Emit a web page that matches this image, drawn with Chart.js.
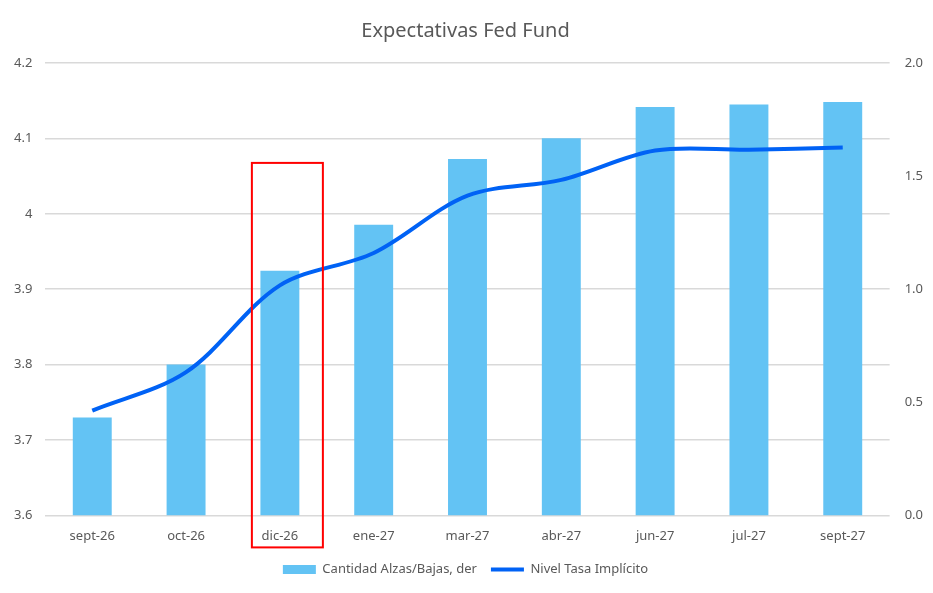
<!DOCTYPE html>
<html>
<head>
<meta charset="utf-8">
<script src="https://cdn.jsdelivr.net/npm/chart.js@4"></script>
<style>
    html, body { margin: 0; padding: 0; background: #fff; }
    #wrap { width: 933px; height: 593px; }
</style>
</head>
<body>
<div id="wrap"><canvas id="fedChart"></canvas></div>
<script>
const months = ['sept-26', 'oct-26', 'dic-26', 'ene-27', 'mar-27', 'abr-27', 'jun-27', 'jul-27', 'sept-27'];
const hikesCuts = [0.433, 0.667, 1.082, 1.285, 1.576, 1.667, 1.806, 1.816, 1.828];
const impliedRate = [3.739, 3.790, 3.905, 3.948, 4.024, 4.045, 4.084, 4.085, 4.088];
const leftTicks = [3.6, 3.7, 3.8, 3.9, 4.0, 4.1, 4.2];
const rightTicks = [0.0, 0.5, 1.0, 1.5, 2.0];
const highlightMonth = 'dic-26';
const highlightTop = 4.0675;

const textGrey = '#595959';

// red box around the highlighted month
const highlightBox = {
    id: 'highlightBox',
    afterDatasetsDraw(chart) {
        const x = chart.scales.x;
        const y = chart.scales.y;
        const cx = x.getPixelForValue(months.indexOf(highlightMonth));
        const ctx = chart.ctx;
        ctx.save();
        ctx.strokeStyle = '#ff0000';
        ctx.lineWidth = 2;
        const top = y.getPixelForValue(highlightTop);
        const bottom = chart.chartArea.bottom + 32;
        ctx.strokeRect(cx - 28, top, 71, bottom - top);
        ctx.restore();
    }
};

const ctx = document.getElementById('fedChart');

new Chart(ctx, {
    data: {
        labels: months,
        datasets: [{
            type: 'line',
            label: 'Nivel Tasa Implícito',
            data: impliedRate,
            yAxisID: 'y',
            borderColor: '#0062f5',
            backgroundColor: '#0062f5',
            borderWidth: 4,
            pointRadius: 0,
            pointStyle: 'line',
            tension: 0.33,
            order: 0
        }, {
            type: 'bar',
            label: 'Cantidad Alzas/Bajas, der',
            data: hikesCuts,
            yAxisID: 'y1',
            backgroundColor: '#63c3f4',
            borderWidth: 0,
            pointStyle: 'rect',
            barPercentage: 0.415,
            categoryPercentage: 1,
            order: 1
        }]
    },
    options: {
        responsive: true,
        maintainAspectRatio: false,
        animation: false,
        layout: { padding: { left: 1, right: 3, top: 13, bottom: 7 } },
        font: { family: 'Noto Sans' },
        plugins: {
            title: {
                display: true,
                text: 'Expectativas Fed Fund',
                color: textGrey,
                font: { family: 'Noto Sans', size: 20, weight: 'normal' },
                padding: { top: 6, bottom: 20 }
            },
            legend: {
                position: 'bottom',
                reverse: true,
                labels: {
                    usePointStyle: true,
                    pointStyleWidth: 33,
                    boxHeight: 9,
                    color: textGrey,
                    padding: 14,
                    font: { family: 'Noto Sans', size: 13 }
                }
            },
            tooltip: { enabled: false }
        },
        scales: {
            x: {
                grid: { display: false },
                border: { display: false },
                ticks: { color: textGrey, font: { family: 'Noto Sans', size: 13 }, padding: 5 }
            },
            y: {
                position: 'left',
                min: leftTicks[0],
                max: leftTicks[leftTicks.length - 1],
                afterBuildTicks: axis => { axis.ticks = leftTicks.map(v => ({ value: v })); },
                grid: { color: '#d9d9d9', lineWidth: 1.5, drawTicks: false },
                border: { display: false },
                ticks: {
                    color: textGrey,
                    padding: 13,
                    font: { family: 'Noto Sans', size: 13 },
                    callback: v => String(Math.round(v * 10) / 10)
                }
            },
            y1: {
                position: 'right',
                min: rightTicks[0],
                max: rightTicks[rightTicks.length - 1],
                afterBuildTicks: axis => { axis.ticks = rightTicks.map(v => ({ value: v })); },
                grid: { display: false },
                border: { display: false },
                ticks: {
                    color: textGrey,
                    padding: 7,
                    font: { family: 'Noto Sans', size: 13 },
                    callback: v => v.toFixed(1)
                }
            }
        }
    },
    plugins: [highlightBox]
});
</script>
</body>
</html>
